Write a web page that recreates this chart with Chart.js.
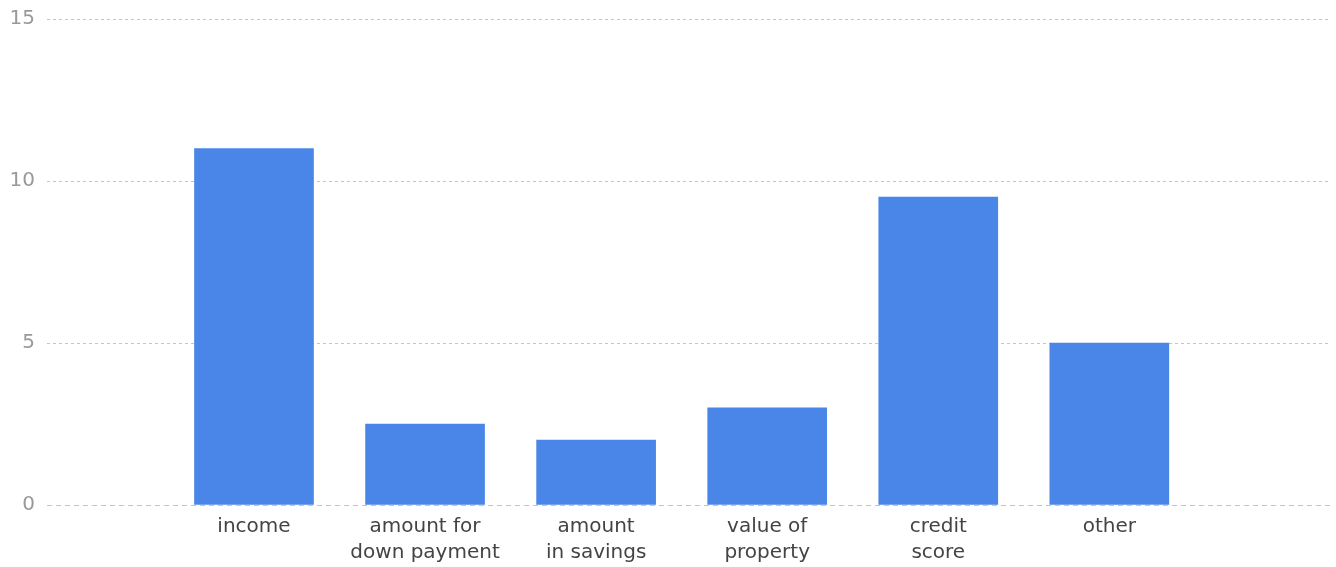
<!DOCTYPE html>
<html>
<head>
<meta charset="utf-8">
<script src="https://cdn.jsdelivr.net/npm/chart.js@4"></script>
<style>
  html, body { margin: 0; padding: 0; background: #fff; }
  #wrap { width: 1336px; height: 567px; }
</style>
</head>
<body>
<div id="wrap"><canvas id="factorsChart"></canvas></div>
<script>
const categories = [
    ["income"],
    ["amount for", "down payment"],
    ["amount", "in savings"],
    ["value of", "property"],
    ["credit", "score"],
    ["other"]
];
const responses = [11, 2.5, 2, 3, 9.5, 5];
const yTicks = [0, 5, 10, 15];

const FONT = "'DejaVu Sans', sans-serif";

const points = responses.map(function(v, i) {
    return { x: i, y: v };
});

new Chart(document.getElementById("factorsChart"), {
    type: "bar",
    data: {
        datasets: [{
            label: "Responses",
            data: points,
            backgroundColor: "#4a86e8",
            borderWidth: 0,
            barThickness: 119
        }]
    },
    options: {
        responsive: true,
        maintainAspectRatio: false,
        animation: false,
        layout: { padding: { top: 0, right: 6, left: 0, bottom: 0 } },
        plugins: {
            legend: { display: false },
            tooltip: { enabled: false }
        },
        scales: {
            x: {
                type: "linear",
                offset: false,
                min: -1.21,
                max: 6.29,
                afterBuildTicks: function(scale) {
                    scale.ticks = categories.map(function(c, i) { return { value: i }; });
                },
                afterFit: function(scale) { scale.height = 62; },
                grid: { display: false, drawTicks: false },
                border: { display: false },
                ticks: {
                    autoSkip: false,
                    maxRotation: 0,
                    padding: 9,
                    color: "#444",
                    font: { family: FONT, size: 20, lineHeight: 1.3 },
                    callback: function(value) { return categories[value]; }
                }
            },
            y: {
                min: 0,
                max: 15,
                afterBuildTicks: function(scale) {
                    scale.ticks = yTicks.map(function(v) { return { value: v }; });
                },
                afterFit: function(scale) {
                    scale.width = 47;
                    scale.paddingTop = 19;
                },
                grid: {
                    drawTicks: false,
                    color: "#c4c4c4",
                    lineWidth: 1
                },
                border: {
                    display: false,
                    dash: function(ctx) {
                        return ctx.tick && ctx.tick.value === 0 ? [5, 4] : [3, 3];
                    }
                },
                ticks: {
                    padding: 12,
                    color: "#999",
                    font: { family: FONT, size: 20 }
                }
            }
        }
    }
});
</script>
</body>
</html>
